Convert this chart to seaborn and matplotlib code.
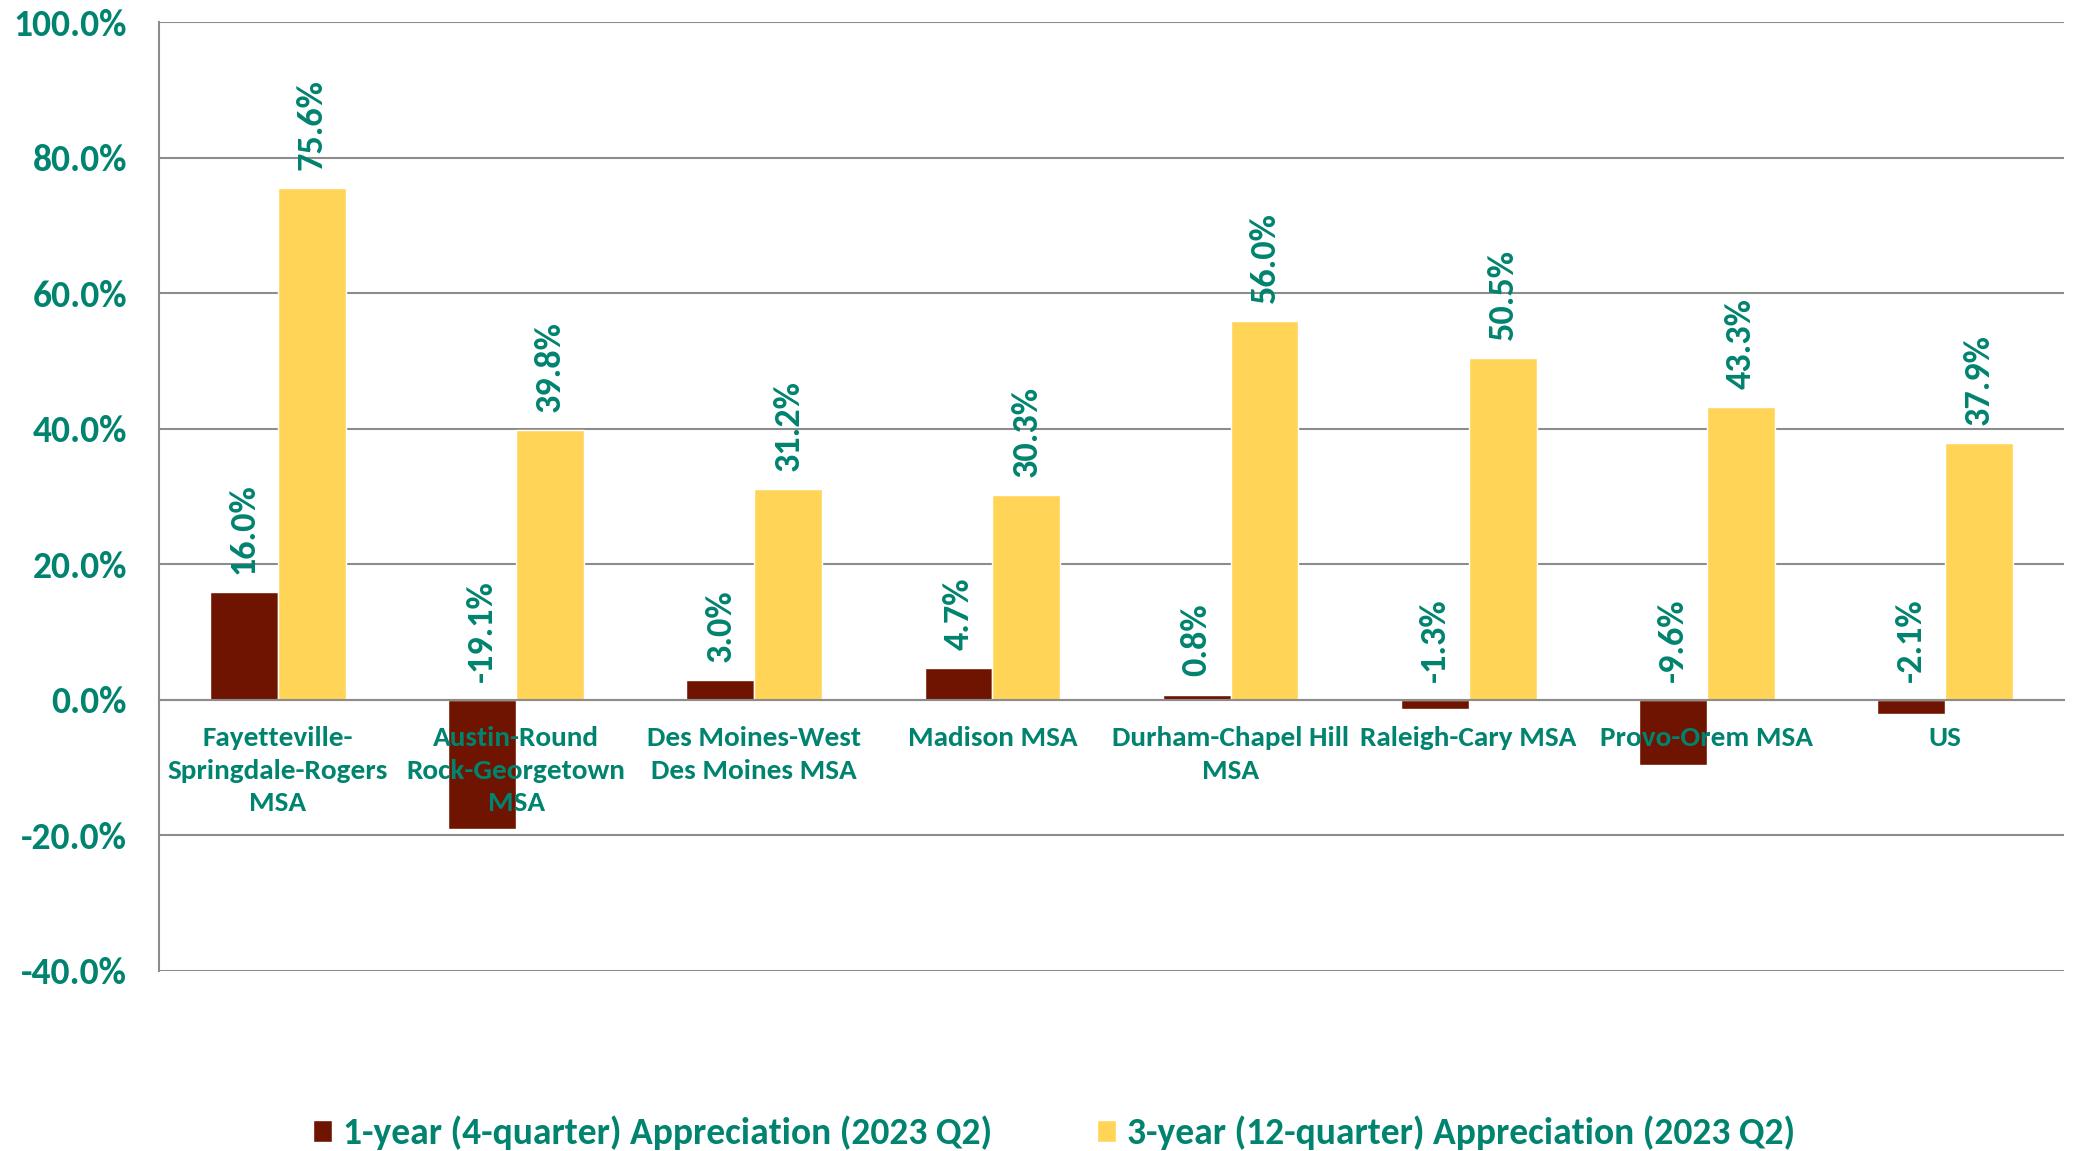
import matplotlib
matplotlib.use("Agg")
import pandas as pd
import matplotlib.pyplot as plt
from matplotlib.ticker import FixedLocator, FuncFormatter
import seaborn as sns

markets = ["Fayetteville-Springdale-Rogers MSA", "Austin-Round Rock-Georgetown MSA",
           "Des Moines-West Des Moines MSA", "Madison MSA", "Durham-Chapel Hill MSA",
           "Raleigh-Cary MSA", "Provo-Orem MSA", "US"]
tick_labels = ["Fayetteville-\nSpringdale-Rogers\nMSA", "Austin-Round\nRock-Georgetown\nMSA",
               "Des Moines-West\nDes Moines MSA", "Madison MSA", "Durham-Chapel Hill\nMSA",
               "Raleigh-Cary MSA", "Provo-Orem MSA", "US"]
one_year = [16.0, -19.1, 3.0, 4.7, 0.8, -1.3, -9.6, -2.1]
three_year = [75.6, 39.8, 31.2, 30.3, 56.0, 50.5, 43.3, 37.9]
series = ["1-year (4-quarter) Appreciation (2023 Q2)", "3-year (12-quarter) Appreciation (2023 Q2)"]

teal = "#00836F"
grid_gray = "#8C8C8C"

df = pd.DataFrame({
    "market": markets * 2,
    "value": one_year + three_year,
    "period": [series[0]] * len(markets) + [series[1]] * len(markets),
})

sns.set_style("white")
plt.rcParams["font.family"] = ["Carlito", "DejaVu Sans"]
plt.rcParams["font.weight"] = "bold"

fig = plt.figure(figsize=(20.75, 11.51), dpi=100)
ax = fig.add_axes([0.0766, 0.1564, 0.9181, 0.8241])

sns.barplot(data=df, x="market", y="value", hue="period", order=markets, hue_order=series,
            palette=["#6E1400", "#FFD457"], width=0.57, saturation=1, ax=ax, legend=True)

# data labels sit above the bar top, or above zero for negative bars
for cont, vals in zip(ax.containers, [one_year, three_year]):
    for bar, v in zip(cont, vals):
        ax.annotate(f"{v:.1f}%", (bar.get_x() + bar.get_width() / 2, max(v, 0)),
                    xytext=(0, 13), textcoords="offset points", rotation=90,
                    ha="center", va="bottom", color=teal, fontsize=26, fontweight="bold")

ax.set_ylim(-40, 100)
ax.set_xlim(-0.5, len(markets) - 0.5)
ax.yaxis.set_major_locator(FixedLocator(range(-40, 101, 20)))
ax.yaxis.set_major_formatter(FuncFormatter(lambda v, p: f"{v:.1f}%"))
ax.grid(axis="y", color=grid_gray, linewidth=1.5)
ax.set_axisbelow(True)
ax.xaxis.set_zorder(3)  # category names are drawn over the bars

for s in ["top", "right"]:
    ax.spines[s].set_visible(False)
ax.spines["left"].set_color(grid_gray)
ax.spines["left"].set_linewidth(1.5)
ax.spines["bottom"].set_position(("data", 0))
ax.spines["bottom"].set_color(grid_gray)
ax.spines["bottom"].set_linewidth(1.5)

ax.tick_params(axis="y", which="major", length=8, width=1.5, color=grid_gray,
               labelsize=27, labelcolor=teal, pad=15)
ax.set_xticks(range(len(markets)))
ax.set_xticklabels(tick_labels, fontsize=21.1, color=teal, fontweight="bold", linespacing=1.42)
ax.set_xticks([i + 0.5 for i in range(len(markets))], minor=True)
ax.tick_params(axis="x", which="major", length=0, pad=19)
ax.tick_params(axis="x", which="minor", length=7, width=1.5, color=grid_gray, direction="out")
for lbl in ax.get_yticklabels():
    lbl.set_fontweight("bold")
ax.set_xlabel("")
ax.set_ylabel("")

handles, labels = ax.get_legend_handles_labels()
ax.get_legend().remove()
leg = fig.legend(handles, labels, loc="center", bbox_to_anchor=(0.508, 0.0155), ncol=2,
                 frameon=False, handlelength=0.5, handleheight=0.5, handletextpad=0.3,
                 columnspacing=2.8, prop={"size": 27, "weight": "bold"})
for t in leg.get_texts():
    t.set_color(teal)

fig.savefig("out.png", dpi=100)
